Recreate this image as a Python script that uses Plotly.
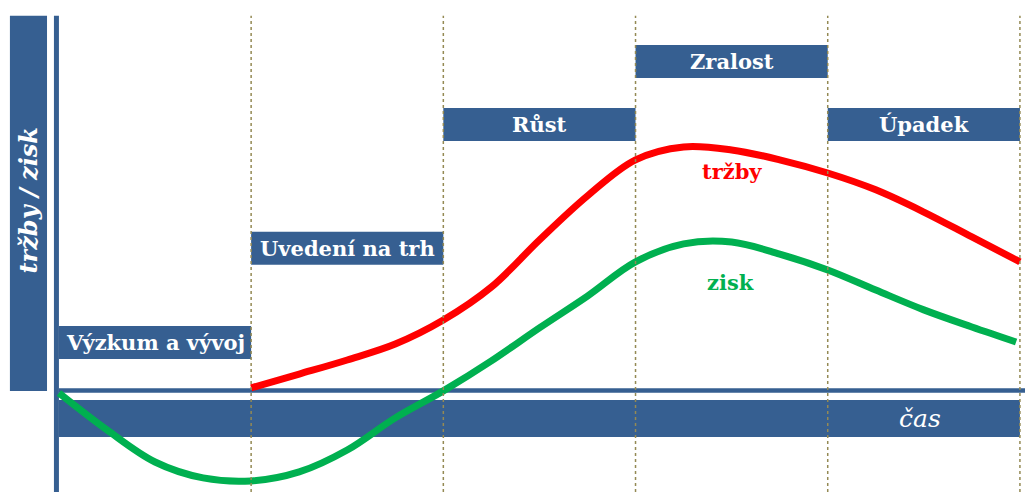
import plotly.graph_objects as go

# ---- data ----
phases = ["Výzkum a vývoj", "Uvedení na trh", "Růst", "Zralost", "Úpadek"]
phase_start = [0, 1, 2, 3, 4]
phase_end = [1, 2, 3, 4, 5]

sales_t = [1.0, 1.25, 1.5, 1.75, 2.0, 2.25, 2.5, 2.75, 3.0, 3.25, 3.5, 3.75, 4.0, 4.25, 4.5, 4.75, 5.0]
sales_v = [0.7, 5.3, 10.0, 15.3, 23.3, 34.3, 50.0, 64.7, 76.7, 81.0, 80.0, 76.7, 72.3, 66.7, 59.3, 51.0, 42.7]

profit_t = [0.0, 0.25, 0.5, 0.75, 1.0, 1.25, 1.5, 1.75, 2.0, 2.25, 2.5, 2.75, 3.0, 3.25, 3.5, 3.75, 4.0, 4.25, 4.5, 4.75, 4.98]
profit_v = [-1.0, -13.3, -24.0, -29.3, -30.3, -27.3, -20.0, -9.3, -0.3, 9.7, 20.7, 31.3, 42.7, 48.7, 49.3, 45.3, 40.0, 33.3, 26.7, 21.0, 16.0]

# ---- layout constants ----
BLUE = "#365F91"
RED = "#FF0000"
GREEN = "#00B050"
DOT = "#948A54"
FONT = "DejaVu Serif"
box_center = [15.8, 47.2, 88.5, 109.5, 88.5]
box_half = 5.5

fig = go.Figure()

fig.add_trace(go.Scatter(x=sales_t, y=sales_v, mode="lines",
                         line=dict(color=RED, width=7, shape="spline", smoothing=1.0),
                         hoverinfo="skip", showlegend=False))
fig.add_trace(go.Scatter(x=profit_t, y=profit_v, mode="lines",
                         line=dict(color=GREEN, width=7, shape="spline", smoothing=1.0),
                         hoverinfo="skip", showlegend=False))

shapes = []
# y-axis label box
shapes.append(dict(type="rect", xref="x", yref="y", x0=-0.255, x1=-0.062, y0=-0.3, y1=124.7,
                   fillcolor=BLUE, line=dict(width=0), layer="below"))
# vertical axis line
shapes.append(dict(type="rect", xref="x", yref="y", x0=-0.026, x1=0.0, y0=-40, y1=124.7,
                   fillcolor=BLUE, line=dict(width=0), layer="below"))
# horizontal axis line
shapes.append(dict(type="rect", xref="x", yref="y", x0=0.0, x1=5.2, y0=-0.9, y1=0.6,
                   fillcolor=BLUE, line=dict(width=0), layer="below"))
# time band
shapes.append(dict(type="rect", xref="x", yref="y", x0=0.0, x1=5.0, y0=-15.7, y1=-3.3,
                   fillcolor=BLUE, line=dict(width=0), layer="below"))
# phase boxes
for s, e, c in zip(phase_start, phase_end, box_center):
    shapes.append(dict(type="rect", xref="x", yref="y", x0=s, x1=e, y0=c - box_half, y1=c + box_half,
                       fillcolor=BLUE, line=dict(width=0), layer="below"))
# dotted phase separators
for e in phase_end:
    shapes.append(dict(type="line", xref="x", yref="y", x0=e, x1=e, y0=-40, y1=124.7,
                       line=dict(color=DOT, width=1.5, dash="dot"), layer="above"))

fig.update_layout(shapes=shapes)

ann = []
for name, s, e, c in zip(phases, phase_start, phase_end, box_center):
    ann.append(dict(x=(s + e) / 2, y=c, xref="x", yref="y", text="<b>%s</b>" % name,
                    showarrow=False, font=dict(family=FONT, size=21, color="white")))
ann.append(dict(x=4.48, y=-9.5, xref="x", yref="y", text="<i>čas</i>", showarrow=False,
                font=dict(family=FONT, size=25, color="white")))
ann.append(dict(x=-0.158, y=63, xref="x", yref="y", text="<b><i>tržby / zisk</i></b>", showarrow=False,
                textangle=-90, font=dict(family=FONT, size=24, color="white")))
ann.append(dict(x=3.50, y=72.7, xref="x", yref="y", text="<b>tržby</b>", showarrow=False,
                font=dict(family=FONT, size=21, color=RED)))
ann.append(dict(x=3.495, y=35.7, xref="x", yref="y", text="<b>zisk</b>", showarrow=False,
                font=dict(family=FONT, size=21, color=GREEN)))
fig.update_layout(annotations=ann)

# the page body adds an 8px offset, so the figure covers page pixels 8..1033 / 8..492
fig.update_layout(
    width=1025, height=484,
    margin=dict(l=0, r=0, t=0, b=0),
    paper_bgcolor="white", plot_bgcolor="white",
    xaxis=dict(range=[-0.265, 5.068], visible=False, fixedrange=True),
    yaxis=dict(range=[-34, 127.3], visible=False, fixedrange=True),
    showlegend=False,
)

fig.write_html("out.html")
